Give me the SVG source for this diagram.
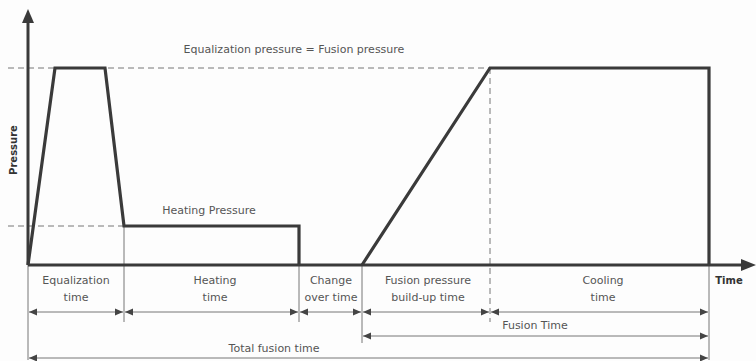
<svg xmlns="http://www.w3.org/2000/svg" width="756" height="361" viewBox="0 0 756 361">
<defs>
<marker id="ah" viewBox="0 0 8 8" refX="8" refY="4" markerWidth="8" markerHeight="8" markerUnits="userSpaceOnUse" orient="auto-start-reverse">
<path d="M0,0.5 L8,4 L0,7.5 Z" fill="#444"/>
</marker>
<style>
.lbl{font-family:"DejaVu Sans","Liberation Sans",sans-serif;font-size:11px;fill:#555;text-anchor:middle}
.bold{font-family:"DejaVu Sans","Liberation Sans",sans-serif;font-size:10px;font-weight:bold;fill:#333;text-anchor:middle}
.thick{fill:none;stroke:#3a3a3a;stroke-width:3.2;stroke-linejoin:miter}
.thin{fill:none;stroke:#777;stroke-width:1}
.dash{fill:none;stroke:#777;stroke-width:1;stroke-dasharray:6,4}
.dim{fill:none;stroke:#777;stroke-width:1;marker-start:url(#ah);marker-end:url(#ah)}
</style>
</defs>
<rect width="756" height="361" fill="#fdfdfd"/>
<g id="connectors">
<line class="dash" x1="8" y1="68" x2="490" y2="68"/>
<line class="dash" x1="8" y1="226" x2="124" y2="226"/>
<line class="dash" x1="490" y1="68" x2="490" y2="322"/>
<line class="thin" x1="28" y1="265" x2="28" y2="360"/>
<line class="thin" x1="124" y1="226" x2="124" y2="322"/>
<line class="thin" x1="299" y1="265" x2="299" y2="322"/>
<line class="thin" x1="362" y1="265" x2="362" y2="343"/>
<line class="thin" x1="709" y1="265" x2="709" y2="360"/>
<line class="dim" x1="29" y1="312" x2="123" y2="312"/>
<line class="dim" x1="125" y1="312" x2="298" y2="312"/>
<line class="dim" x1="300" y1="312" x2="361" y2="312"/>
<line class="dim" x1="363" y1="312" x2="489" y2="312"/>
<line class="dim" x1="491" y1="312" x2="708" y2="312"/>
<line class="dim" x1="363" y1="336" x2="708" y2="336"/>
<line class="dim" x1="29" y1="358" x2="708" y2="358"/>
</g>
<g id="axes">
<line x1="28" y1="265" x2="28" y2="20" stroke="#3a3a3a" stroke-width="3"/>
<path d="M22,23 L28,9 L34,23 Z" fill="#3a3a3a"/>
<line x1="28" y1="265" x2="744" y2="265" stroke="#3a3a3a" stroke-width="3"/>
<path d="M741,259 L756,265 L741,271 Z" fill="#3a3a3a"/>
</g>
<g id="profile">
<polyline class="thick" points="28,265 55,68 105,68 124,226 299,226 299,265"/>
<polyline class="thick" points="362,265 490,68 709,68 709,265"/>
</g>
<g id="labels">
<text class="lbl" x="294" y="53">Equalization pressure = Fusion pressure</text>
<text class="lbl" x="209" y="214">Heating Pressure</text>
<text class="bold" transform="translate(17,150) rotate(-90)">Pressure</text>
<text class="bold" x="729" y="284">Time</text>
<text class="lbl" x="76" y="284">Equalization</text>
<text class="lbl" x="76" y="301">time</text>
<text class="lbl" x="215" y="284">Heating</text>
<text class="lbl" x="215" y="301">time</text>
<text class="lbl" x="331" y="284">Change</text>
<text class="lbl" x="331" y="301">over time</text>
<text class="lbl" x="428" y="284">Fusion pressure</text>
<text class="lbl" x="428" y="301">build-up time</text>
<text class="lbl" x="603" y="284">Cooling</text>
<text class="lbl" x="603" y="301">time</text>
<text class="lbl" x="535" y="329">Fusion Time</text>
<text class="lbl" x="274" y="352">Total fusion time</text>
</g>
</svg>
